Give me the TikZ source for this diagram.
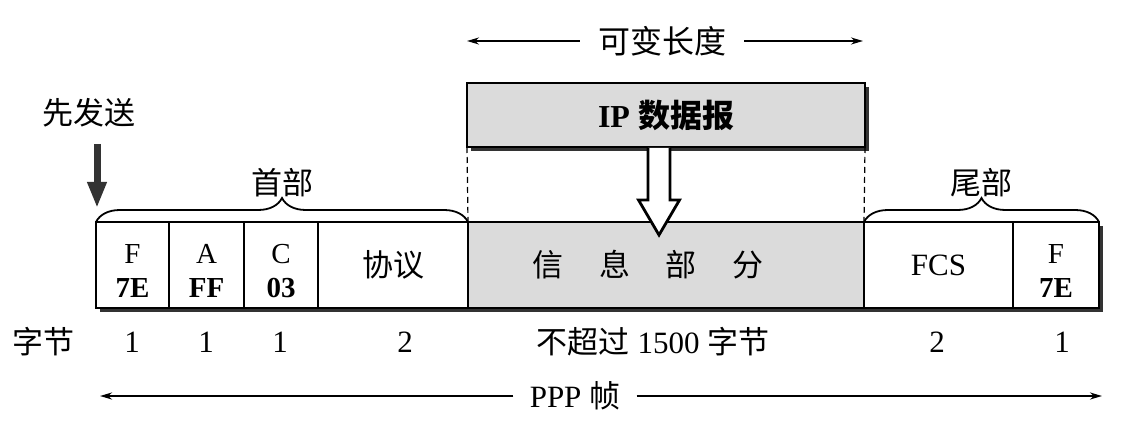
\documentclass[tikz,border=0pt]{standalone}
\usepackage{fontspec}
\setmainfont{Liberation Serif}
\newfontfamily\cjk{Noto Sans CJK SC}
\usetikzlibrary{arrows.meta,positioning,decorations.pathreplacing,calc,backgrounds}
\newcommand{\pppflag}[2]{\raisebox{-4.5pt}[\height][\depth]{\begin{tabular}{@{}c@{}}#1\\\textbf{#2}\end{tabular}}}
\tikzset{
  pppfield/.style={
    draw=black, fill=white, line width=1pt,
    minimum height=43pt, inner sep=0pt, outer sep=0pt,
    align=center, font=\fontsize{15.5}{18}\selectfont
  },
  pppflagfield/.style={pppfield,font=\fontsize{14.5}{17}\selectfont},
  pppdata/.style={pppfield,fill=black!14},
  pppbrace/.style={decorate,decoration={brace,amplitude=12pt},line width=0.9pt},
  pppguide/.style={dash pattern=on 3pt off 2pt,line width=0.6pt},
  ppplabel/.style={font=\fontsize{15.5}{18}\selectfont,inner sep=0pt},
  ppplen/.style={-{Stealth[length=6pt,width=3.5pt]},line width=0.9pt},
  pppsend/.style={-{Triangle[length=13pt,width=9pt]},line width=3.5pt,draw=black!80},
  pppdrop/.style={draw=black,fill=white,line width=1.4pt,line join=miter},
  pppshadow/.style={fill=black!80}
}
\begin{document}
\begin{tikzpicture}[x=0.5pt,y=-0.5pt]
\useasboundingbox (0,0) rectangle (1122,422);
% frame fields, first sent on the left
\node[pppflagfield,minimum width=36.5pt,anchor=north west] (fflag) at (96,222) {\pppflag{F}{7E}};
\node[pppflagfield,minimum width=37.5pt,right=0pt of fflag] (faddr) {\pppflag{A}{FF}};
\node[pppflagfield,minimum width=37pt,right=0pt of faddr] (fctrl) {\pppflag{C}{03}};
\node[pppfield,minimum width=75pt,right=0pt of fctrl] (fproto) {{\cjk 协议}};
\node[pppdata,minimum width=198pt,right=0pt of fproto] (finfo) {\mbox{{\cjk 信\hspace{18pt}息\hspace{18pt}部\hspace{18pt}分}\hspace{18pt}}};
\node[pppfield,minimum width=74.5pt,right=0pt of finfo] (ffcs) {FCS};
\node[pppflagfield,minimum width=43pt,right=0pt of ffcs] (fend) {\pppflag{F}{7E}};

% IP datagram above the information field
\node[pppfield,fill=black!14,minimum width=199pt,minimum height=32pt,anchor=north west,
  font=\fontsize{16}{19}\selectfont\bfseries] (ip) at (467,83) {IP {\cjk 数据报}};

\begin{scope}[on background layer]
  \fill[pppshadow] ([shift={(4,4)}]fflag.north west) rectangle ([shift={(4,4)}]fend.south east);
  \fill[pppshadow] ([shift={(4,4)}]ip.north west) rectangle ([shift={(4,4)}]ip.south east);
\end{scope}

\draw[pppguide] (ip.south west) -- (finfo.north west);
\draw[pppguide] (ip.south east) -- (finfo.north east);

% hollow arrow into the information field
\coordinate (drop) at (659,148);
\draw[pppdrop] ($(drop)+(-11,0)$) -- ++(0,52) -- ++(-9.5,0) -- ($(drop)+(0,87)$)
  -- ($(drop)+(20.5,52)$) -- ++(-9.5,0) -- ($(drop)+(11,0)$);

% header and trailer braces
\draw[pppbrace] (fflag.north west) -- node[ppplabel,above=12pt] (head) {{\cjk 首部}} (fproto.north east);
\draw[pppbrace] (ffcs.north west) -- node[ppplabel,above=12pt] (tail) {{\cjk 尾部}} (fend.north east);

% sent first
\node[ppplabel] (send) at (89,113) {{\cjk 先发送}};
\coordinate (sendtip) at (97,208);
\draw[pppsend] ([yshift=-8pt]send.south -| sendtip) -- (sendtip);

% variable length
\node[ppplabel,inner xsep=9pt,font=\fontsize{16}{19}\selectfont] (varlen) at (662,41) {{\cjk 可变长度}};
\coordinate (varL) at (467,41);
\coordinate (varR) at (863,41);
\draw[ppplen] (varlen) -- (varL);
\draw[ppplen] (varlen) -- (varR);

% byte counts
\node[ppplabel] (bytes) at (43,342) {{\cjk 字节}};
\node[ppplabel] (nflag) at (132,342) {1};
\node[ppplabel] (naddr) at (206,342) {1};
\node[ppplabel] (nctrl) at (280,342) {1};
\node[ppplabel] (nproto) at (405,342) {2};
\node[ppplabel] (ninfo) at (653,342) {{\cjk 不超过} 1500 {\cjk 字节}};
\node[ppplabel] (nfcs) at (937,342) {2};
\node[ppplabel] (nend) at (1062,342) {1};

% whole frame
\node[ppplabel,inner xsep=8pt] (pppframe) at (575,396) {PPP {\cjk 帧}};
\coordinate (frameL) at (100,396);
\coordinate (frameR) at (1102,396);
\draw[ppplen,line width=1pt] (pppframe) -- (frameL);
\draw[ppplen,line width=1pt] (pppframe) -- (frameR);
\end{tikzpicture}
\end{document}
